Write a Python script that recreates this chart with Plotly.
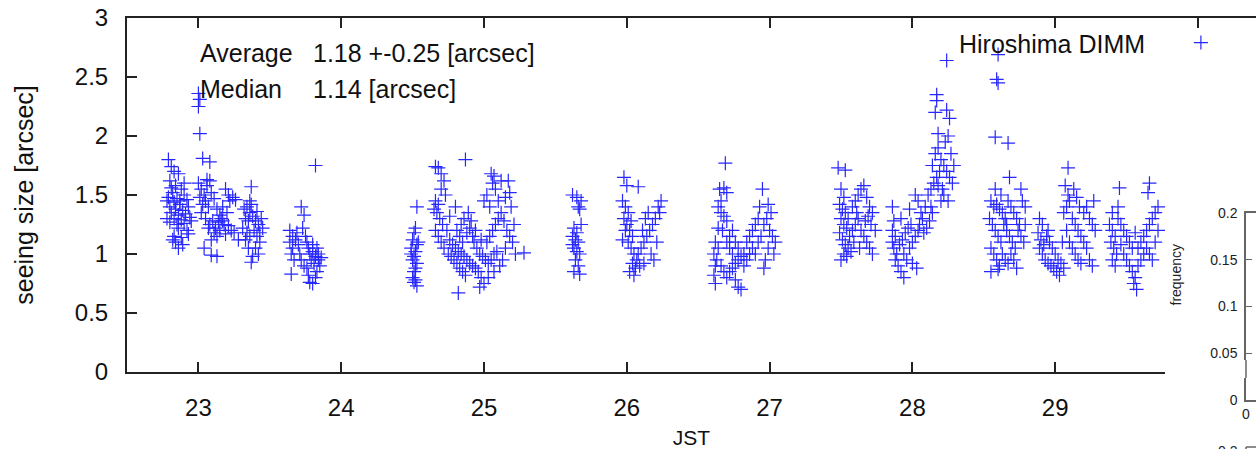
import plotly.graph_objects as go

# ---- data: (JST hour, seeing [arcsec]) ----
night_a = [(22.79,1.80),(22.81,1.74),(22.83,1.70),(22.86,1.68),(22.80,1.62),(22.84,1.58),(22.88,1.55),(22.82,1.52),
           (22.79,1.48),(22.85,1.47),(22.90,1.50),(22.78,1.45),(22.83,1.44),(22.87,1.42),(22.92,1.46),(22.80,1.40),
           (22.84,1.38),(22.89,1.37),(22.93,1.40),(22.81,1.35),(22.86,1.33),(22.91,1.34),(22.78,1.30),(22.83,1.30),
           (22.88,1.29),(22.94,1.31),(22.80,1.27),(22.85,1.25),(22.90,1.26),(22.86,1.22),(22.92,1.20),(22.83,1.15),
           (22.88,1.14),(22.84,1.10),(22.86,1.05),(22.89,1.08),(22.82,1.12),(22.87,1.45),(22.81,1.56),(22.90,1.60),
           (22.95,1.28),(22.93,1.17)]
night_b = [(23.00,2.36),(23.01,2.31),(23.00,2.25),(23.01,2.02),(23.03,1.81),(23.08,1.78),
           (23.00,1.60),(23.02,1.55),(23.04,1.50),(23.06,1.58),(23.08,1.62),(23.01,1.48),(23.03,1.42),(23.05,1.45),
           (23.07,1.40),(23.09,1.52),(23.11,1.47),(23.13,1.38),(23.02,1.35),(23.05,1.30),(23.08,1.25),(23.10,1.28),
           (23.12,1.22),(23.14,1.27),(23.16,1.30),(23.18,1.25),(23.20,1.35),(23.22,1.45),(23.24,1.48),(23.26,1.46),
           (23.17,1.40),(23.19,1.55),(23.21,1.50),(23.15,1.20),(23.13,1.15),(23.11,1.18),(23.09,1.12),(23.07,1.22),
           (23.19,1.17),(23.23,1.20),(23.04,1.05),(23.09,0.99),(23.13,0.98),(23.25,1.18),(23.28,1.12),(23.06,1.63),
           (23.17,1.28),(23.21,1.24),(23.15,1.33)]
night_c = [(23.32,1.38),(23.34,1.40),(23.36,1.35),(23.33,1.30),(23.35,1.28),(23.37,1.42),(23.31,1.22),(23.34,1.18),
           (23.36,1.15),(23.38,1.32),(23.40,1.28),(23.42,1.25),(23.44,1.30),(23.39,1.20),(23.41,1.15),(23.43,1.10),
           (23.40,1.05),(23.42,1.00),(23.38,0.98),(23.37,0.93),(23.35,1.05),(23.33,1.12),(23.37,1.57),(23.45,1.22),
           (23.41,1.36),(23.43,1.18),(23.36,1.45)]
night_d = [(23.64,1.20),(23.66,1.15),(23.64,1.10),(23.66,1.05),(23.65,1.00),(23.67,0.95),(23.65,0.83),(23.68,1.12),
           (23.70,1.08),(23.72,1.40),(23.74,1.33),(23.73,1.22),(23.71,1.00),(23.72,0.95),(23.74,0.90),(23.75,1.15),
           (23.76,1.10),(23.77,1.05),(23.78,1.00),(23.76,0.88),(23.77,0.82),(23.78,0.76),(23.80,0.75),(23.79,0.95),
           (23.80,1.02),(23.81,0.92),(23.82,0.98),(23.83,1.05),(23.84,0.95),(23.85,0.90),(23.83,0.85),(23.82,0.80),
           (23.84,1.00),(23.86,0.97),(23.80,1.08),(23.69,1.18),(23.82,1.75)]
night_e = [(24.53,1.40),(24.52,1.22),(24.51,1.18),(24.50,1.12),(24.53,1.08),(24.49,1.05),(24.52,1.02),(24.51,0.98),
           (24.50,0.95),(24.53,0.92),(24.52,0.88),(24.51,0.85),(24.50,0.80),(24.52,0.78),(24.51,0.76),(24.53,0.73),
           (24.54,1.10),(24.49,1.00)]
night_f = [(24.66,1.74),(24.68,1.73),(24.70,1.68),(24.72,1.62),(24.70,1.55),(24.66,1.45),(24.68,1.42),(24.65,1.38),
           (24.67,1.35),(24.69,1.30),(24.71,1.25),(24.73,1.50),(24.74,1.20),(24.66,1.20),(24.68,1.15),(24.70,1.10),
           (24.72,1.05),(24.75,1.00),(24.77,0.98),(24.79,0.95),(24.81,0.92),(24.83,0.88),(24.85,0.85),(24.87,0.82),
           (24.82,0.67),(24.76,1.12),(24.78,1.08),(24.80,1.05),(24.82,1.02),(24.84,1.00),(24.86,0.98),(24.88,0.95),
           (24.90,0.92),(24.92,0.90),(24.94,0.88),(24.96,0.85),(24.98,0.80),(25.00,0.75),(24.97,0.72),(24.89,1.35),
           (24.91,1.28),(24.86,1.30),(24.84,1.25),(24.80,1.40),(24.76,1.32),(24.93,1.10),(24.95,1.05),(24.97,1.00),
           (24.99,0.98),(25.01,0.95),(25.03,0.92),(25.05,0.95),(25.07,1.00),(25.09,1.02),(25.02,1.10),(25.04,1.15),
           (25.06,1.20),(25.08,1.25),(25.10,1.30),(25.12,1.35),(25.14,1.28),(25.16,1.20),(25.18,1.15),(25.20,1.10),
           (25.15,1.05),(25.13,0.95),(25.11,0.90),(25.07,0.85),(25.03,0.80),(25.00,1.45),(25.02,1.50),(25.04,1.40),
           (25.06,1.60),(25.08,1.55),(25.10,1.45),(25.12,1.62),(25.05,1.68),(25.07,1.66),(25.15,1.48),(25.18,1.52),
           (25.17,1.62),(25.19,1.40),(25.21,1.25),(25.22,1.00),(24.87,1.80),(25.28,1.01),(24.92,1.15),(24.90,1.22),
           (24.88,1.18),(24.94,1.20),(24.98,1.12),(24.85,1.10),(24.83,1.15),(24.81,1.20)]
night_g = [(25.62,1.50),(25.65,1.48),(25.68,1.45),(25.66,1.40),(25.67,1.38),(25.63,1.22),(25.65,1.18),(25.62,1.15),
           (25.64,1.12),(25.66,1.10),(25.63,1.05),(25.65,1.02),(25.67,1.00),(25.64,0.95),(25.66,0.90),(25.63,0.85),
           (25.67,0.83),(25.62,1.08),(25.68,1.25)]
night_h = [(25.98,1.65),(26.00,1.58),(26.08,1.57),(25.97,1.45),(25.99,1.40),(26.01,1.35),(25.98,1.30),(26.00,1.25),
           (26.02,1.20),(26.04,1.15),(26.03,1.28),(25.99,1.20),(26.01,1.10),(26.03,1.05),(26.05,1.00),(26.07,0.95),
           (26.04,0.92),(26.06,0.88),(26.02,0.85),(26.05,0.82),(26.08,1.00),(26.10,1.05),(26.12,1.10),(26.14,1.15),
           (26.16,1.20),(26.18,1.25),(26.20,1.30),(26.22,1.40),(26.24,1.45),(26.11,1.20),(26.13,1.30),(26.15,1.35),
           (26.17,1.00),(26.19,0.95),(26.21,1.10),(26.09,0.90),(26.12,0.92),(26.23,1.35),(25.97,1.12)]
night_i = [(26.69,1.77),(26.65,1.55),(26.68,1.56),(26.70,1.52),(26.66,1.45),(26.64,1.40),(26.66,1.35),(26.68,1.32),
           (26.70,1.28),(26.64,1.22),(26.67,1.20),(26.62,1.10),(26.64,1.05),(26.61,1.00),(26.63,0.95),(26.62,0.90),
           (26.61,0.82),(26.62,0.75),(26.66,0.90),(26.68,0.85),(26.70,0.80),(26.72,0.85),(26.74,0.88),(26.76,0.92),
           (26.78,0.95),(26.80,0.98),(26.82,1.00),(26.76,0.78),(26.78,0.72),(26.80,0.70),(26.74,1.00),(26.72,1.05),
           (26.70,1.10),(26.72,1.15),(26.74,1.20),(26.76,1.10),(26.78,1.05),(26.82,0.90),(26.84,0.95),(26.86,1.00),
           (26.84,1.10),(26.86,1.15),(26.88,1.20),(26.90,1.25),(26.92,1.30),(26.88,1.05),(26.90,1.00),(26.92,1.10),
           (26.94,1.15),(26.96,1.25),(26.98,1.30),(27.00,1.20),(27.02,1.15),(27.04,1.10),(26.95,1.55),(26.99,1.42),
           (27.01,1.35),(26.97,0.95),(26.96,0.88),(27.03,1.00),(26.99,1.05),(26.93,1.40)]
night_j = [(27.48,1.73),(27.53,1.71),(27.50,1.55),(27.52,1.48),(27.49,1.42),(27.51,1.38),(27.53,1.35),(27.50,1.30),
           (27.52,1.25),(27.54,1.22),(27.49,1.18),(27.51,1.12),(27.53,1.08),(27.55,1.05),(27.52,1.00),(27.54,0.98),
           (27.50,0.95),(27.56,1.15),(27.58,1.20),(27.60,1.25),(27.62,1.30),(27.58,1.40),(27.60,1.45),(27.62,1.50),
           (27.64,1.55),(27.66,1.58),(27.68,1.48),(27.70,1.40),(27.72,1.35),(27.64,1.20),(27.66,1.15),(27.68,1.10),
           (27.70,1.05),(27.72,1.00),(27.74,1.20),(27.57,1.02),(27.59,1.10),(27.61,1.35),(27.63,1.05),(27.67,1.28),
           (27.69,1.32),(27.71,1.25),(27.55,1.30)]
night_k = [(27.86,1.40),(27.87,1.28),(27.86,1.20),(27.88,1.15),(27.86,1.10),(27.87,1.05),(27.89,1.00),(27.88,0.95),
           (27.90,0.90),(27.92,0.85),(27.94,0.80),(27.91,1.08),(27.93,1.12),(27.95,1.18),(27.97,1.22),(27.99,1.25),
           (27.92,1.30),(27.94,1.00),(27.96,0.95),(27.98,1.05),(28.00,1.10),(28.02,1.15),(28.04,1.20),(28.00,0.92),
           (28.03,0.88),(28.05,1.25),(28.07,1.30),(28.09,1.40),(28.11,1.50),(28.06,1.35),(28.08,1.18),(28.10,1.22),
           (28.12,1.28),(28.14,1.35),(28.04,1.45),(28.02,1.50),(27.98,1.38),(28.13,1.55),(28.15,1.60),(28.17,1.65),
           (28.19,1.70),(28.14,1.75),(28.16,1.85),(28.18,1.90),(28.20,1.80),(28.22,1.75),(28.24,1.70),(28.26,1.65),
           (28.28,1.60),(28.21,1.55),(28.23,1.95),(28.25,2.00),(28.18,2.02),(28.16,2.20),(28.17,2.30),(28.17,2.35),
           (28.24,2.22),(28.26,2.15),(28.27,1.85),(28.29,1.75),(28.22,1.50),(28.20,1.45),(28.25,1.45),(28.24,2.64),
           (28.13,1.40),(28.18,1.58)]
night_l = [(28.68,1.65),(28.58,1.55),(28.76,1.55),(28.55,1.45),(28.57,1.40),(28.59,1.42),(28.61,1.38),(28.63,1.35),
           (28.65,1.30),(28.67,1.45),(28.69,1.40),(28.71,1.35),(28.73,1.30),(28.75,1.25),(28.77,1.45),(28.79,1.40),
           (28.54,1.30),(28.56,1.25),(28.58,1.20),(28.60,1.15),(28.62,1.10),(28.64,1.25),(28.66,1.20),(28.68,1.15),
           (28.70,1.10),(28.72,1.05),(28.74,1.20),(28.76,1.15),(28.78,1.10),(28.55,1.05),(28.57,1.00),(28.59,0.95),
           (28.61,0.90),(28.63,1.00),(28.65,0.95),(28.67,0.92),(28.69,1.00),(28.71,0.95),(28.73,0.88),(28.55,0.85),
           (28.60,0.87),(28.79,1.25),(28.60,2.69),(28.59,2.48),(28.60,2.45),(28.58,1.99),(28.67,1.94),(28.66,1.25),
           (28.62,1.50)]
night_m = [(28.89,1.30),(28.91,1.25),(28.88,1.18),(28.90,1.12),(28.92,1.08),(28.89,1.05),(28.91,1.00),(28.93,0.95),
           (28.95,0.92),(28.97,0.90),(28.99,0.88),(28.94,1.15),(28.96,1.10),(28.98,1.05),(29.00,1.00),(29.02,0.95),
           (29.04,0.92),(29.01,0.85),(29.03,0.82),(29.06,0.88),(29.08,1.20),(29.06,1.35),(29.08,1.40),(29.09,1.50),
           (29.07,1.58),(29.09,1.73),(29.10,1.45),(29.12,1.30),(29.14,1.25),(29.16,1.20),(29.18,1.15),(29.10,1.10),
           (29.12,1.05),(29.14,1.00),(29.16,0.95),(29.18,0.92),(29.20,1.35),(29.22,1.40),(29.24,1.30),(29.26,1.25),
           (29.20,1.10),(29.22,1.05),(29.24,0.95),(29.26,0.90),(29.28,1.20),(29.13,1.55),(29.15,1.48),(28.95,1.20),
           (29.05,1.10),(29.17,1.40),(29.27,1.45)]
night_n = [(29.40,1.35),(29.38,1.25),(29.40,1.20),(29.42,1.15),(29.39,1.10),(29.41,1.05),(29.43,1.00),(29.40,0.95),
           (29.42,0.90),(29.45,1.56),(29.44,1.30),(29.46,1.25),(29.48,1.20),(29.50,1.15),(29.52,1.10),(29.54,1.05),
           (29.46,1.08),(29.48,1.00),(29.50,0.95),(29.52,0.90),(29.54,0.85),(29.56,0.80),(29.55,0.75),(29.57,0.70),
           (29.58,0.90),(29.60,0.95),(29.62,1.00),(29.58,1.05),(29.60,1.10),(29.62,1.15),(29.64,1.20),(29.66,1.25),
           (29.68,1.30),(29.70,1.35),(29.72,1.40),(29.66,1.60),(29.65,1.52),(29.64,1.05),(29.66,1.00),(29.68,0.95),
           (29.70,1.10),(29.72,1.20),(29.56,1.18),(29.44,1.40)]

nights = [night_a, night_b, night_c, night_d, night_e, night_f, night_g,
          night_h, night_i, night_j, night_k, night_l, night_m, night_n]
jst = [p[0] for n in nights for p in n]
seeing = [p[1] for n in nights for p in n]

x_ticks = [23, 24, 25, 26, 27, 28, 29, 30]
x_ticktext = ["23", "24", "25", "26", "27", "28", "29", ""]
y_ticks = [0, 0.5, 1, 1.5, 2, 2.5, 3]
y_ticktext = ["0", "0.5", "1", "1.5", "2", "2.5", "3"]
freq_ticks = [0, 0.05, 0.1, 0.15, 0.2]
freq_ticktext = ["0", "0.05", "0.1", "0.15", "0.2"]
stat_labels = ["Average", "Median"]
stat_values = ["1.18 +-0.25 [arcsec]", "1.14 [arcsec]"]

# ---- layout helpers (pixel -> paper) ----
W, H, L, T = 1256, 449, 127, 18
PW, PH = W - L, H - T
def fx(p): return (p - L) / PW
def fy(p): return (H - p) / PH

FONT = "Liberation Sans, Arial, sans-serif"
AX = "#222222"
INS = "#666666"
FS = 24
X_RANGE = [22.5, 22.5 + PW / 142.8]
Y_RANGE = [0, 3]

fig = go.Figure()
fig.add_trace(go.Scatter(
    x=jst, y=seeing, mode="markers", name=" ", showlegend=True,
    marker=dict(symbol="cross-thin", size=10, color="#2626ff",
                line=dict(width=1.2, color="#2626ff")),
    xaxis="x", yaxis="y"))
# empty trace so that the inset axes get drawn
fig.add_trace(go.Scatter(x=[], y=[], xaxis="x2", yaxis="y2", showlegend=False, hoverinfo="skip"))

shapes = [
    # white strip hiding the bottom frame where the inset panel overlaps it
    dict(type="rect", xref="paper", yref="paper", x0=fx(1165), x1=1.0,
         y0=fy(378), y1=fy(360), fillcolor="white", line=dict(width=0), layer="above"),
    # redraw the inset's left axis segment over that strip
    dict(type="line", xref="x2 domain", yref="paper", x0=0, x1=0,
         y0=fy(378), y1=fy(360), line=dict(color=INS, width=1.5), layer="above"),
    # top edge of the next (cropped) inset panel
    dict(type="line", xref="paper", yref="paper", x0=fx(1246), x1=1.0,
         y0=fy(447), y1=fy(447), line=dict(color=INS, width=1.5)),
    dict(type="line", xref="paper", yref="paper", x0=fx(1246), x1=fx(1246),
         y0=fy(447), y1=0, line=dict(color=INS, width=1.5)),
]

fig.update_layout(
    width=W, height=H,
    margin=dict(l=L, r=0, t=T, b=0, autoexpand=False),
    paper_bgcolor="white", plot_bgcolor="white",
    font=dict(family=FONT, size=FS, color="#111"),
    showlegend=True,
    legend=dict(x=fx(957), y=fy(43), xanchor="left", yanchor="middle",
                bgcolor="rgba(0,0,0,0)", borderwidth=0,
                title=dict(text="Hiroshima DIMM\u00a0\u00a0\u00a0\u00a0", side="left",
                           font=dict(size=25)),
                font=dict(size=FS), itemwidth=30),
    xaxis=dict(range=X_RANGE, domain=[0, 1], anchor="y", tickvals=x_ticks, ticktext=x_ticktext,
               ticks="inside", ticklen=10, tickwidth=2, tickcolor=AX,
               showline=True, linecolor=AX, linewidth=2, mirror="ticks",
               showgrid=False, zeroline=False, automargin=False,
               ticklabelstandoff=13, tickfont=dict(size=FS),
               title=dict(text="JST", standoff=14, font=dict(size=21))),
    yaxis=dict(range=Y_RANGE, domain=[fy(372), 1], anchor="x",
               tickvals=y_ticks, ticktext=y_ticktext,
               ticks="inside", ticklen=10, tickwidth=2, tickcolor=AX,
               showline=True, linecolor=AX, linewidth=2, mirror=False,
               showgrid=False, zeroline=False, ticklabelstandoff=12, automargin=False,
               title=dict(text="seeing size [arcsec]", standoff=34, font=dict(size=25))),
    xaxis2=dict(domain=[fx(1246), 1], anchor="y2", range=[0, 0.1],
                tickvals=[0], ticks="", showline=True, linecolor=INS, linewidth=1.5,
                mirror=True, showgrid=False, zeroline=False, automargin=False,
                tickfont=dict(size=14, color="#222")),
    yaxis2=dict(domain=[fy(400), fy(213)], anchor="x2", range=[0, 0.2],
                tickvals=freq_ticks, ticktext=freq_ticktext,
                ticks="inside", ticklen=6, tickcolor=INS,
                showline=True, linecolor=INS, linewidth=1.5, mirror=False,
                showgrid=False, zeroline=False, tickfont=dict(size=14, color="#222"),
                ticklabelstandoff=4, automargin=False),
    shapes=shapes,
)

ann = []
for i, (lab, val) in enumerate(zip(stat_labels, stat_values)):
    yy = fy(53 + 36 * i)
    ann.append(dict(text=lab, x=fx(198), y=yy, xref="paper", yref="paper",
                    xanchor="left", yanchor="middle", showarrow=False, font=dict(size=25)))
    ann.append(dict(text=val, x=fx(311), y=yy, xref="paper", yref="paper",
                    xanchor="left", yanchor="middle", showarrow=False, font=dict(size=25)))
ann.append(dict(text="frequency", x=fx(1185), y=fy(308), xref="paper", yref="paper",
                textangle=-90, showarrow=False, font=dict(size=14, color="#222")))
ann.append(dict(text="0.2", x=fx(1240), y=fy(441), xref="paper", yref="paper",
                xanchor="right", yanchor="top", showarrow=False, font=dict(size=14, color="#222")))
fig.update_layout(annotations=ann)

fig.write_html("out.html", config={"displayModeBar": False},
               post_script="document.body.style.margin='0';document.body.style.overflow='hidden';")
